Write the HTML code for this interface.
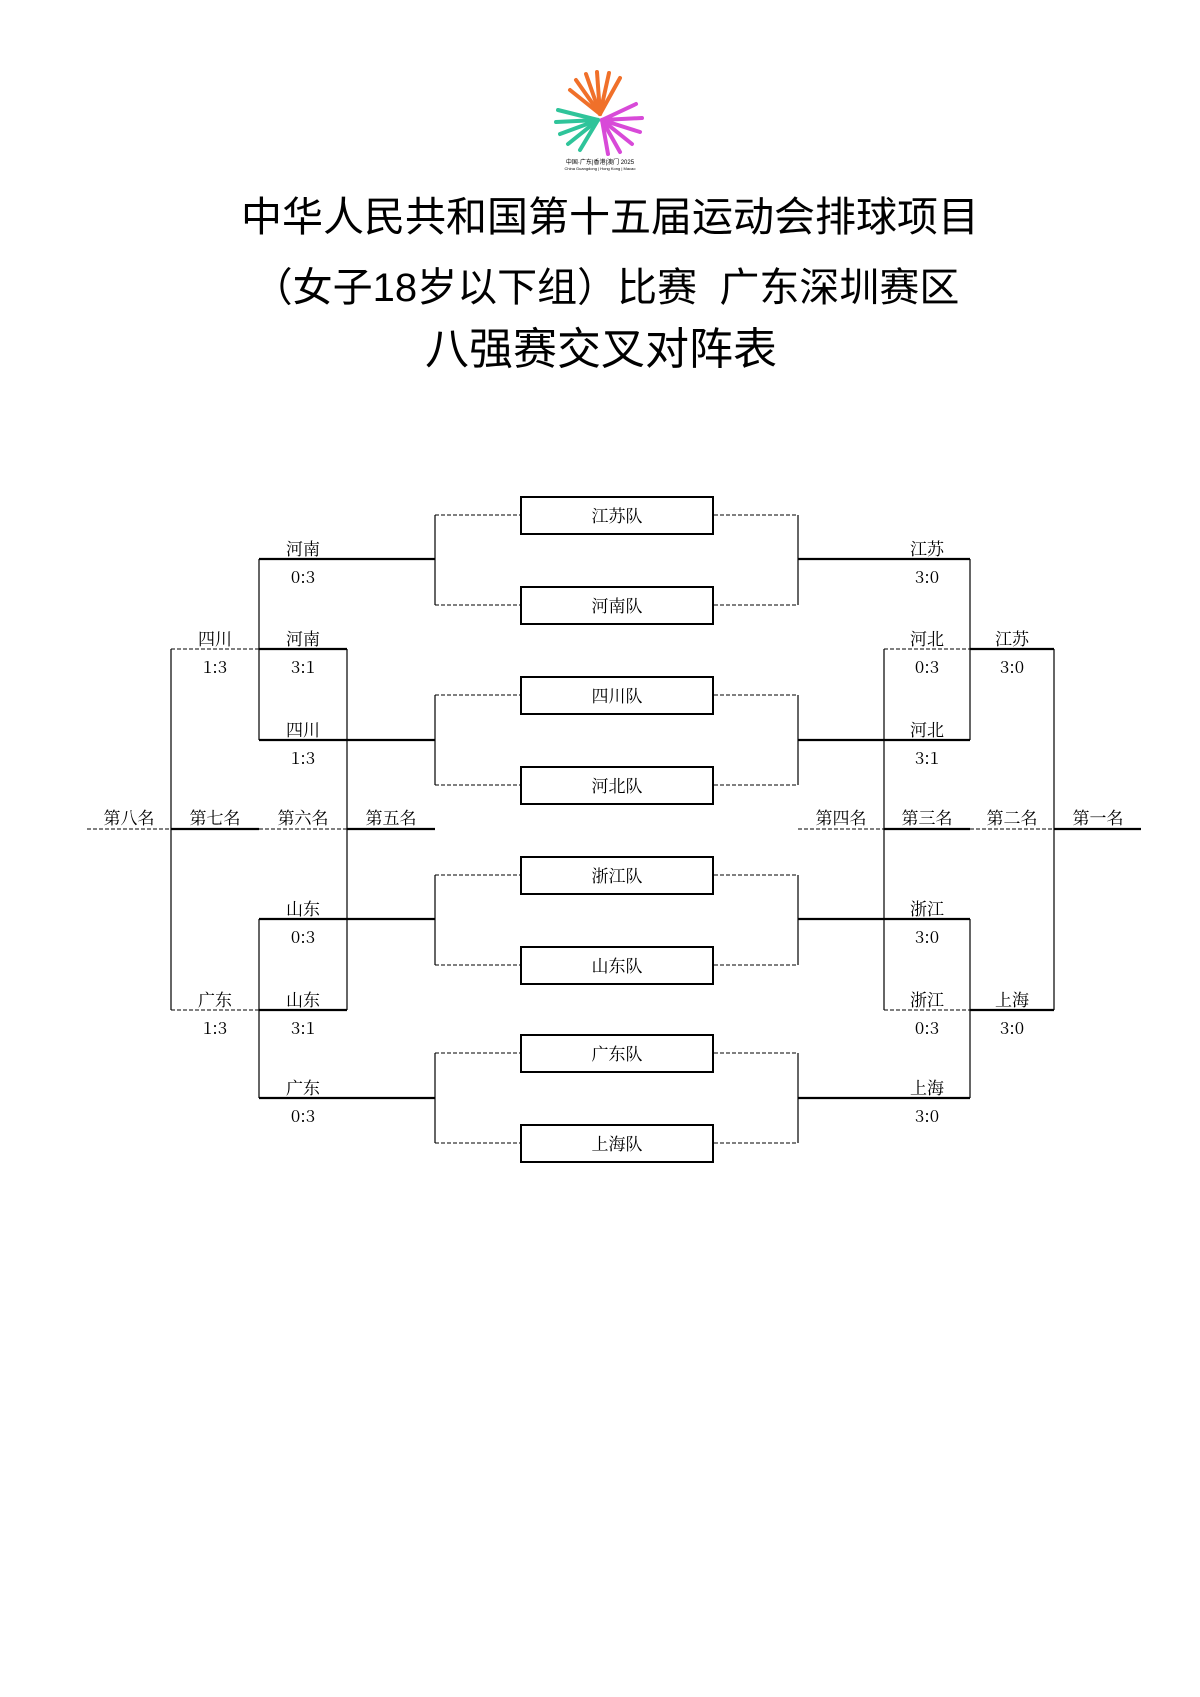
<!DOCTYPE html>
<html><head><meta charset="utf-8"><style>
body{margin:0;background:#fff}
.t{position:absolute;left:0;width:1200px;text-align:center;font-family:"Liberation Sans","Noto Sans CJK SC",sans-serif;color:#000}
</style></head><body>
<div style="position:relative;width:1200px;height:1697px;overflow:hidden">
<div class="t" style="top:192px;left:10px;font-size:41px;line-height:50px">中华人民共和国第十五届运动会排球项目</div>
<div class="t" style="top:263px;left:6px;font-size:40px;line-height:50px">（女子18岁以下组）比赛&nbsp; 广东深圳赛区</div>
<div class="t" style="top:323px;left:1px;font-size:44px;line-height:54px">八强赛交叉对阵表</div>
<svg width="1200" height="1697" style="position:absolute;left:0;top:0" font-family="Noto Serif CJK SC, serif">
<g transform="translate(600,118)" stroke-linecap="round" stroke-width="4">
<g stroke="#f0702a"><line x1="0" y1="-4" x2="-24" y2="-38"/><line x1="0" y1="-4" x2="-14" y2="-44"/><line x1="0" y1="-4" x2="-3" y2="-46"/><line x1="0" y1="-4" x2="9" y2="-45"/><line x1="0" y1="-4" x2="20" y2="-40"/><line x1="0" y1="-4" x2="-30" y2="-28"/></g>
<g stroke="#2fc49a"><line x1="-2" y1="2" x2="-42" y2="-8"/><line x1="-2" y1="2" x2="-44" y2="4"/><line x1="-2" y1="2" x2="-40" y2="16"/><line x1="-2" y1="2" x2="-32" y2="26"/><line x1="-2" y1="2" x2="-20" y2="32"/></g>
<g stroke="#d84ad8"><line x1="2" y1="2" x2="36" y2="-14"/><line x1="2" y1="2" x2="42" y2="0"/><line x1="2" y1="2" x2="40" y2="14"/><line x1="2" y1="2" x2="32" y2="26"/><line x1="2" y1="2" x2="20" y2="34"/><line x1="2" y1="2" x2="8" y2="36"/></g>
</g>
<text x="600" y="164" font-size="6" text-anchor="middle" font-family="Liberation Sans,sans-serif">中国·广东|香港|澳门 2025</text>
<text x="600" y="170" font-size="4" text-anchor="middle" font-family="Liberation Sans,sans-serif">China Guangdong | Hong Kong | Macao</text>
<g fill="none" stroke="#000">
<g stroke-width="2">
<rect x="521" y="497" width="192" height="37"/><rect x="521" y="587" width="192" height="37"/>
<rect x="521" y="677" width="192" height="37"/><rect x="521" y="767" width="192" height="37"/>
<rect x="521" y="857" width="192" height="37"/><rect x="521" y="947" width="192" height="37"/>
<rect x="521" y="1035" width="192" height="37"/><rect x="521" y="1125" width="192" height="37"/>
</g>
<g stroke-width="1" stroke-dasharray="4,2">
<path d="M435 515H520M435 605H520M435 695H520M435 785H520M435 875H520M435 965H520M435 1053H520M435 1143H520"/>
<path d="M714 515H798M714 605H798M714 695H798M714 785H798M714 875H798M714 965H798M714 1053H798M714 1143H798"/>
<path d="M171 649H259M884 649H970M171 1010H259M884 1010H970M87 829H171M259 829H347M798 829H884M970 829H1054"/>
</g>
<g stroke-width="1.2">
<path d="M435 515V605M435 695V785M435 875V965M435 1053V1143M798 515V605M798 695V785M798 875V965M798 1053V1143"/>
<path d="M259 559V740M259 919V1098M970 559V740M970 919V1098"/>
<path d="M171 649V1010M347 649V1010M884 649V1010M1054 649V1010"/>
</g>
<g stroke-width="2.2">
<path d="M259 559H435M259 740H435M259 919H435M259 1098H435M798 559H970M798 740H970M798 919H970M798 1098H970"/>
<path d="M259 649H347M259 1010H347M970 649H1054M970 1010H1054"/>
<path d="M171 829H259M347 829H435M884 829H970M1054 829H1141"/>
</g>
</g>
<g font-size="17" text-anchor="middle" fill="#000">
<text x="617" y="522">江苏队</text><text x="617" y="612">河南队</text><text x="617" y="702">四川队</text><text x="617" y="792">河北队</text>
<text x="617" y="882">浙江队</text><text x="617" y="972">山东队</text><text x="617" y="1060">广东队</text><text x="617" y="1150">上海队</text>
<text x="129" y="824">第八名</text><text x="215" y="824">第七名</text><text x="303" y="824">第六名</text><text x="391" y="824">第五名</text>
<text x="841" y="824">第四名</text><text x="927" y="824">第三名</text><text x="1012" y="824">第二名</text><text x="1098" y="824">第一名</text>
<text x="303" y="555">河南</text><text x="303" y="583">0:3</text>
<text x="303" y="645">河南</text><text x="303" y="673">3:1</text>
<text x="215" y="645">四川</text><text x="215" y="673">1:3</text>
<text x="303" y="736">四川</text><text x="303" y="764">1:3</text>
<text x="303" y="915">山东</text><text x="303" y="943">0:3</text>
<text x="303" y="1006">山东</text><text x="303" y="1034">3:1</text>
<text x="215" y="1006">广东</text><text x="215" y="1034">1:3</text>
<text x="303" y="1094">广东</text><text x="303" y="1122">0:3</text>
<text x="927" y="555">江苏</text><text x="927" y="583">3:0</text>
<text x="927" y="645">河北</text><text x="927" y="673">0:3</text>
<text x="1012" y="645">江苏</text><text x="1012" y="673">3:0</text>
<text x="927" y="736">河北</text><text x="927" y="764">3:1</text>
<text x="927" y="915">浙江</text><text x="927" y="943">3:0</text>
<text x="927" y="1006">浙江</text><text x="927" y="1034">0:3</text>
<text x="1012" y="1006">上海</text><text x="1012" y="1034">3:0</text>
<text x="927" y="1094">上海</text><text x="927" y="1122">3:0</text>
</g>
</svg>
</div>
</body></html>
